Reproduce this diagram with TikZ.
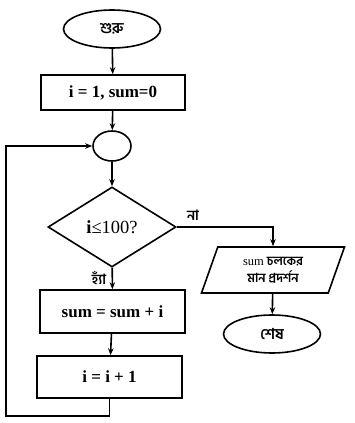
\documentclass[tikz,border=0pt]{standalone}
\usepackage{fontspec}
\setmainfont{Liberation Serif}
\newfontfamily\bn[Script=Bengali]{Hind Siliguri}
\usetikzlibrary{shapes.geometric,arrows.meta}
\begin{document}
\begin{tikzpicture}[x=1pt,y=-1pt,
  base/.style={draw,line width=1.6pt,inner sep=0pt},
  procbox/.style={base,rectangle,minimum height=38pt,font=\fontsize{17}{20}\selectfont\bfseries},
  term/.style={base,ellipse,minimum width=97pt,minimum height=38pt,font=\fontsize{15}{18}\selectfont\bn\bfseries},
  conn/.style={base,ellipse,minimum width=38pt,minimum height=30pt},
  decision/.style={base,diamond,aspect=1.6,minimum width=128pt,minimum height=80pt,font=\fontsize{18.5}{21}\selectfont},
  io/.style={base,trapezium,trapezium left angle=58,trapezium right angle=122,trapezium stretches body=true,minimum width=143pt,minimum height=46pt,align=center,font=\fontsize{12.5}{17}\selectfont},
  flow/.style={line width=1.6pt,-{Stealth[length=7pt,width=5.5pt]}},
  lbl/.style={font=\fontsize{14}{16}\selectfont\bn\bfseries,inner sep=0pt}]
\useasboundingbox (0,0) rectangle (355,423);
\node[term] (start) at (112,29) {শুরু};
\node[procbox,minimum width=144pt,minimum height=35pt] (init) at (113,92.5) {i = 1, sum=0};
\node[conn] (c) at (112,146) {};
\node[decision] (d) at (112,227) {{\bfseries i}≤100?};
\node[procbox,minimum width=145pt,minimum height=43pt] (b2) at (112.5,311.5) {sum = sum + i};
\node[procbox,minimum width=145pt,minimum height=42pt] (b3) at (109.5,377) {i = i + 1};
\node[io] (out) at (273,270) {sum {\bn\bfseries চলকের}\\{\bn\bfseries মান প্রদর্শন}};
\node[term] (end) at (272,334) {শেষ};
\coordinate (lb) at (6,416);
\node[lbl] (no) at (193,215) {না};
\node[lbl] (yes) at (99,278) {হ্যাঁ};
\draw[flow] (start) -- (init);
\draw[flow] (init) -- (c);
\draw[flow] (c) -- (d);
\draw[flow] (d) -- (b2);
\draw[flow] (b2) -- (b3);
\draw[flow] (d.east) -| (out);
\draw[flow] (out) -- (end);
\draw[flow] (b3.south) |- (lb) |- (c.west);
\end{tikzpicture}
\end{document}
